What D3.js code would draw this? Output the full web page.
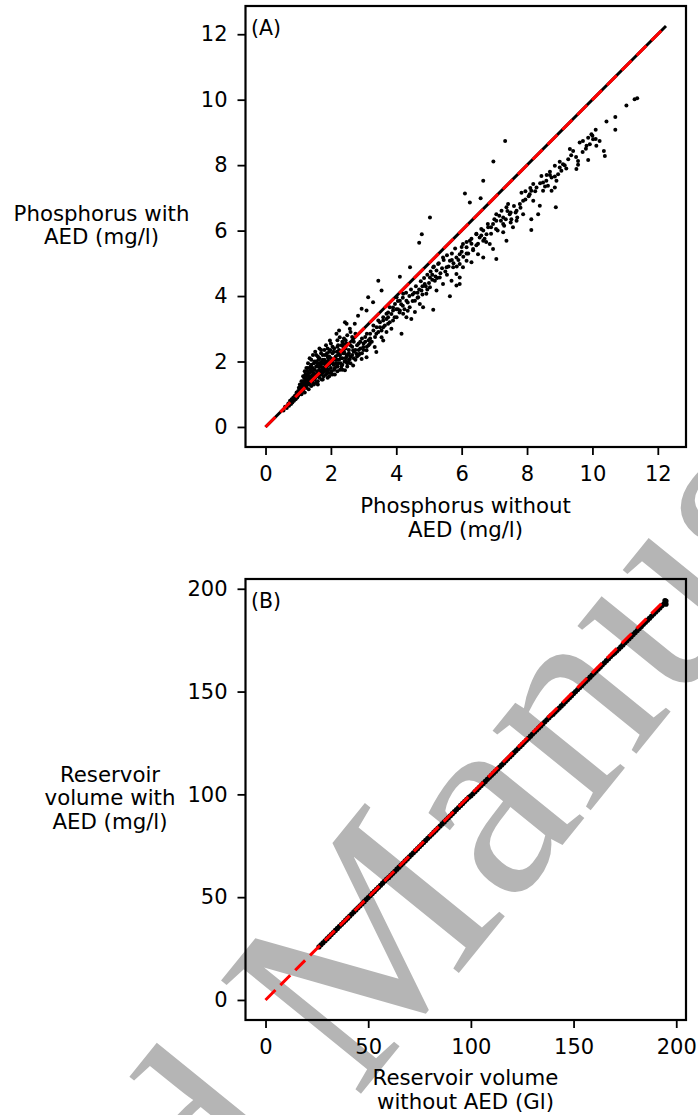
<!DOCTYPE html>
<html>
<head>
<meta charset="utf-8">
<script src="https://cdn.jsdelivr.net/npm/d3@7"></script>
<style>
  body { margin: 0; background: #fff; }
  svg { display: block; }
  text { font-family: "DejaVu Sans", sans-serif; fill: #000; }
  text.wm { font-family: "Liberation Serif", "DejaVu Serif", serif; fill: #b5b5b5; font-size: 275px; }
</style>
</head>
<body>
<svg id="mainsvg" width="698" height="1115"></svg>
<script>
// panel A: phosphorus, [without AED, with AED] in mg/l
const phosphorus = [
  // upper end
  [11.37,10.04],[11.29,10.01],[11.04,9.82],[10.70,9.47],[10.43,9.33],[10.70,9.08],[10.10,9.08],[9.97,8.94],
  [9.87,8.84],[10.02,8.79],[9.61,8.69],[9.71,8.74],[9.82,8.59],[9.92,8.64],[10.22,8.74],[10.12,8.59],
  [10.35,8.43],[10.38,8.28],[9.87,8.16],[9.56,8.13],[9.56,8.01],[9.51,7.88],[9.31,8.49],[9.41,8.43],
  [9.26,8.18],[9.10,8.03],[9.00,7.93],[9.05,7.83],[8.85,7.98],[8.95,7.72],[8.75,7.62],[8.90,7.52],
  [8.85,7.32],[8.59,7.52],[8.64,7.37],[8.44,7.67],[8.49,7.47],[8.29,7.32],[8.19,7.42],[8.08,7.11],
  [8.13,7.22],[8.49,7.22],[8.75,7.22],[8.88,6.71],[7.83,7.16],[7.88,6.91],[7.78,6.81],[8.19,6.91],
  [8.39,6.76],[8.34,6.50],[8.13,6.35],[8.13,6.02],[7.57,6.10],[7.68,6.30],[7.47,6.50],[7.42,6.81],
  [7.37,6.71],[7.22,6.61],[7.06,6.50],[7.27,6.40],[7.88,6.50],[7.68,6.61],[7.52,6.35],[7.27,6.20],
  [7.06,6.30],[6.96,6.20],[6.81,6.10],[6.66,6.00],[6.76,5.89],[6.55,5.79],[6.45,5.89],[6.66,5.69],
  [6.86,5.59],[6.96,5.44],[7.06,5.13],[6.66,5.18],[6.50,5.28],[6.35,5.44],[6.25,5.69],[6.15,5.49],
  [6.04,5.59],[5.94,5.28],[5.84,5.18],[5.94,4.98],[6.04,4.88],[6.15,5.08],[6.30,5.03],[7.37,5.69],
  [7.27,5.95],[8.60,7.70],[8.70,7.80],[9.20,7.90],[9.70,8.40],[10.00,8.90],[7.95,6.95],[8.05,7.05],
  [3.30,3.10],[3.45,3.25],[3.60,3.05],[3.75,3.35],[3.90,3.25],[4.05,3.60],[4.20,3.70],[4.35,3.55],
  [4.50,4.05],[4.65,4.10],[4.80,4.30],[4.95,4.20],[5.10,4.65],[5.25,4.55],[5.40,4.85],[5.55,4.65],
  [5.70,5.10],[5.85,4.90],[6.00,5.35],[6.15,5.30],[6.30,5.60],[6.45,5.55],[6.60,5.85],[6.75,5.65],
  [6.90,6.10],[7.05,6.05],[7.20,6.30],[7.35,6.35],[7.50,6.55],[7.65,6.55],[7.80,6.70],[7.95,7.20],
  [8.10,7.30],[8.25,7.20],[8.40,7.45],[8.55,7.35],[8.70,7.70],[8.85,7.65],[9.00,8.10],[9.15,8.00],
  [9.35,8.30],[9.50,8.25],[9.80,8.50],[10.10,8.80],
  // above the 1:1 line
  [7.33,8.74],[6.97,8.11],[6.66,7.52],[6.10,7.13],[6.25,6.86],[6.58,6.99],[5.03,6.40],[4.78,5.89],
  [4.70,5.63],[4.42,4.88],[4.11,4.59],[3.45,4.47],[3.55,4.17],[3.14,3.96],[3.29,3.81],[3.09,3.56],
  [2.94,3.61],[2.83,3.40],[2.43,3.20],[2.73,3.15],[2.58,3.00],[2.17,2.85],[2.27,2.74],[1.97,2.64],
  [2.38,2.54],[2.48,3.15],[2.25,2.95],
  // middle band
  [5.64,5.08],[5.74,4.88],[5.54,4.88],[5.43,5.18],[5.28,4.98],[5.13,4.88],[5.23,4.78],[5.03,4.57],
  [5.18,4.47],[5.33,4.57],[5.43,4.37],[5.23,4.17],[5.03,4.27],[4.87,4.37],[4.92,4.07],[4.77,4.17],
  [4.67,3.96],[4.57,3.86],[4.72,3.76],[4.82,3.66],[5.13,3.58],[4.57,3.51],[4.41,3.66],[4.31,3.86],
  [4.21,4.07],[4.11,3.86],[4.01,3.96],[3.96,3.76],[4.11,3.56],[4.21,3.46],[4.31,3.35],[4.46,3.30],
  [4.01,3.35],[3.90,3.56],[3.80,3.66],[3.70,3.46],[3.60,3.25],[3.75,3.15],[3.85,3.00],[3.70,2.90],
  [3.50,3.05],[3.39,2.85],[3.55,2.74],[3.60,2.64],[4.16,2.85],[3.34,2.44],[3.39,2.29],[3.19,2.54],
  [3.09,2.34],[2.99,2.44],[2.88,2.24],[2.78,2.24],[2.68,1.88],[3.09,2.13],[2.94,2.08],[2.68,2.34],
  [2.58,2.08],[2.53,1.98],[2.43,1.73],[5.64,3.99],[5.94,4.37],[5.84,4.32],[5.69,4.47],[5.94,4.57],
  [5.84,4.67],
  [2.05,1.95],[2.10,1.75],[2.15,2.05],[2.20,1.85],[2.25,2.20],[2.30,1.95],[2.35,2.10],[2.40,2.30],
  [2.45,2.00],[2.50,2.20],[2.55,2.35],[2.60,2.15],[2.65,2.45],[2.70,2.30],[2.75,2.05],[2.80,2.50],
  [2.85,2.35],[2.90,2.60],[2.95,2.25],[3.00,2.55],[3.05,2.75],[3.10,2.45],[3.15,2.65],[3.20,2.85],
  [3.25,2.60],[3.30,2.95],[3.35,2.75],[3.40,3.05],[3.45,2.90],[3.50,3.20],[3.55,2.95],[3.60,3.35],
  [3.65,3.10],[3.70,3.30],[3.75,3.50],[3.80,3.20],[3.85,3.45],[3.90,3.65],[3.95,3.35],[4.00,3.60],
  [4.05,3.85],[4.10,3.50],[4.15,3.75],[4.20,3.95],[4.25,3.60],[4.30,4.10],[4.35,3.80],[4.40,4.00],
  [4.45,4.20],[4.50,3.85],[4.55,4.10],[4.60,4.30],[4.65,3.95],[4.70,4.20],[4.75,4.45],[4.80,4.05],
  [4.85,4.55],[4.90,4.30],[4.95,4.65],[5.00,4.40],[5.05,4.75],[5.10,4.50],[5.15,4.90],[5.20,4.60],
  [5.30,5.00],[5.35,4.70],[5.45,5.10],[5.50,4.75],[5.55,5.25],[5.60,4.90],[5.70,5.30],[5.75,5.00],
  [5.80,5.45],[5.90,5.10],[6.00,5.50],[6.05,5.20],[6.15,5.65],[6.20,5.30],[6.30,5.75],[6.35,5.40],
  [6.45,5.90],[6.50,5.60],[6.60,6.05],[6.70,5.75],[6.80,6.20],[6.90,5.90],[7.00,6.35],[7.10,6.00],
  [7.15,6.45],[7.30,6.15],[7.40,6.60],[7.50,6.25],[7.60,6.75],[7.70,6.40],
  // dense cluster near origin
  [0.55,0.50],[0.60,0.62],[0.65,0.58],[0.70,0.72],[0.72,0.65],[0.75,0.80],[0.78,0.70],[0.80,0.85],
  [0.82,0.75],[0.85,0.90],[0.87,0.80],[0.90,0.95],[0.92,0.85],[0.95,1.05],[0.97,0.90],[1.00,1.10],
  [1.00,0.95],[1.02,1.20],[1.05,1.00],[1.05,1.30],[1.08,1.10],
  [1.10,1.40],[1.10,1.00],[1.12,1.25],[1.15,1.55],[1.15,1.10],[1.18,1.35],[1.20,1.70],[1.20,1.05],
  [1.22,1.45],[1.25,1.20],[1.25,1.80],[1.28,1.60],[1.30,1.30],[1.30,1.95],[1.32,1.15],[1.35,1.50],
  [1.35,2.10],[1.38,1.75],[1.40,1.25],[1.40,1.90],[1.42,1.40],[1.45,2.20],[1.45,1.60],[1.48,1.30],
  [1.50,2.00],[1.50,1.45],[1.50,1.75],
  [1.52,2.30],[1.55,1.35],[1.55,1.85],[1.58,1.55],[1.60,2.15],[1.60,1.40],[1.62,1.70],[1.65,2.40],
  [1.65,1.50],[1.68,1.95],[1.70,1.60],[1.70,2.25],[1.72,1.45],[1.75,1.80],[1.75,2.05],[1.78,1.55],
  [1.80,2.35],[1.80,1.70],[1.82,1.95],[1.85,1.60],[1.85,2.50],[1.88,1.85],[1.90,2.15],[1.90,1.65],
  [1.92,1.75],[1.95,2.30],[1.95,1.55],[1.98,2.00],[2.00,1.80],[2.00,2.55],
  [2.02,1.70],[2.05,2.25],[2.08,1.90],[2.10,2.40],[2.12,1.60],[2.15,2.15],[2.18,1.85],[2.20,2.65],
  [2.22,1.95],[2.25,2.35],[2.28,1.75],[2.30,2.10],[2.32,2.50],[2.35,1.90],[2.38,2.25],[2.40,2.70],
  [2.42,2.00],[2.45,2.40],[2.48,2.15],[2.50,1.85],
  [1.15,1.20],[1.25,1.40],[1.35,1.30],[1.45,1.50],[1.55,1.60],[1.65,1.75],[1.75,1.65],[1.85,1.75],
  [1.95,1.90],[1.30,1.45],[1.40,1.55],[1.50,1.60],[1.60,1.85],[1.70,1.90],[1.80,2.05],[1.90,2.00],
  [2.00,2.10],[1.20,1.30],[1.10,1.15],[1.45,1.80],[1.55,2.00],[1.65,2.10],[1.75,2.20],[1.35,1.65],
  [1.25,1.55],[1.18,1.50],[1.28,1.70],[1.38,1.85],[1.48,1.95],[1.58,1.70],[1.68,1.85],[1.78,1.95],
  [1.88,2.25],[1.98,2.35],[2.08,2.05],[2.18,2.30],[1.62,1.60],[1.72,1.70],[1.82,1.85],[1.92,1.95],
  [2.55,2.05],[2.60,2.50],[2.65,2.20],[2.70,2.60],[2.75,2.35],[2.80,2.15],[2.85,2.55],[2.90,2.40],
  [2.95,2.70],[3.00,2.35],[3.05,2.60],[3.10,2.85],[3.15,2.50],[3.20,2.70],[2.50,2.80],[2.60,2.90],
  [2.20,2.45],[2.35,2.60],[2.45,2.65],[2.65,2.75],[2.75,2.85],
  [1.05,1.15],[1.12,1.30],[1.18,1.20],[1.22,1.60],[1.28,1.35],[1.32,1.55],[1.38,1.45],[1.42,1.70],
  [1.48,1.65],[1.52,1.50],[1.58,1.95],[1.62,2.05],[1.68,1.65],[1.72,2.00],[1.78,1.80],[1.82,2.20],
  [1.88,1.70],[1.92,2.10],[1.98,1.65],[2.02,2.00],[2.08,2.30],[2.12,1.80],[2.18,2.05],[2.22,2.50],
  [2.28,2.20],[2.32,1.85],[2.38,2.45],[2.42,2.25],[2.48,2.55],[1.40,2.05],[1.55,2.20],[1.30,1.80],
  [1.20,1.55],[1.70,2.35],[1.90,2.40],[2.05,2.45],[1.60,1.30],[1.75,1.45],[1.90,1.50],[2.05,1.60],
  [2.20,1.70],[2.35,1.75],[2.50,1.95],[2.60,1.95],[2.70,2.10],[2.85,2.20],[0.98,1.00],[0.93,0.98],
  [1.08,1.25],[1.15,1.40],[1.25,1.30],[1.35,1.40],[1.45,1.35],[1.65,1.95],[1.85,2.00],[1.95,2.15],
  [2.15,1.95],[2.25,2.05],[2.45,2.10],[2.55,2.25]
];

// panel B: reservoir volume (Gl) without AED and with AED
const volWithout = [26,27,28,29,30,31,32,33,34,35,36,37,38,39,40,41,42,43,44,45,46,47,48,49,50,51,52,53,54,
  55,56,57,58,59,60,61,62,63,64,65,66,67,68,69,70,71,72,73,74,75,76,77,78,79,80,81,82,83,84,85,86,87,88,89,
  90,91,92,93,94,95,96,97,98,99,100,101,102,103,104,105,106,107,108,109,110,111,112,113,114,115,116,117,
  118,119,120,121,122,123,124,125,126,127,128,129,130,131,132,133,134,135,136,137,138,139,140,141,142,143,
  144,145,146,147,148,149,150,151,152,153,154,155,156,157,158,159,160,161,162,163,164,165,166,167,168,169,
  170,171,172,173,174,175,176,177,178,179,180,181,182,183,184,185,186,187,188,189,190,191,192,193,194,
  195,195,194.5];
const volWith = [25.8,26.8,27.8,28.8,29.8,30.8,31.8,32.8,33.8,34.8,35.8,36.8,37.8,38.8,39.8,40.8,41.8,42.8,
  43.8,44.8,45.8,46.8,47.8,48.8,49.8,50.8,51.8,52.8,53.8,54.8,55.8,56.8,57.8,58.8,
  59.6,60.6,61.6,62.6,63.6,64.6,65.6,66.6,67.6,68.6,69.6,70.6,71.6,72.6,73.6,74.6,75.6,76.6,77.6,78.6,
  79.6,80.6,81.6,82.6,83.6,84.6,85.6,86.6,87.6,88.6,89.6,90.6,91.6,92.6,93.6,94.6,95.6,96.6,97.6,98.6,
  99.3,100.3,101.3,102.3,103.3,104.3,105.3,106.3,107.3,108.3,109.3,110.3,111.3,112.3,113.3,114.3,115.3,
  116.3,117.3,118.3,119.3,120.3,121.3,122.3,123.3,124.3,125.3,126.3,127.3,128.3,129.3,130.3,131.3,132.3,
  133.3,134.3,135.3,136.3,137.3,138.3,
  139.0,140.0,141.0,142.0,143.0,144.0,145.0,146.0,147.0,148.0,149.0,150.0,151.0,152.0,153.0,154.0,155.0,
  156.0,157.0,158.0,159.0,160.0,161.0,162.0,163.0,164.0,165.0,166.0,167.0,168.0,
  168.7,169.7,170.7,171.7,172.7,173.7,174.7,175.7,176.7,177.7,178.7,179.7,180.7,181.7,182.7,183.7,184.7,
  185.7,186.7,187.7,188.7,189.7,190.7,191.7,192.7,
  194.0,192.5,194.3];

const ticksA = [0, 2, 4, 6, 8, 10, 12];
const ticksB = [0, 50, 100, 150, 200];
const lineA = [0, 12.25];
const lineB = [0, 194.5];

const svg = d3.select('#mainsvg');

// watermark behind everything
const wm = svg.append('g')
  .attr('transform', 'translate(356,1100) rotate(-51)');
wm.append('text').attr('class', 'wm').attr('x', -62).attr('text-anchor', 'end').text('Accepted');
wm.append('text').attr('class', 'wm').attr('x', 0).text('Manuscript');

const panel = function (opt) {
  const x = d3.scaleLinear().domain(opt.domain).range([245.5, 686]);
  const y = d3.scaleLinear().domain(opt.domain).range([opt.bottom, opt.bottom - 441]);
  const g = svg.append('g');

  g.selectAll('.dot')
    .data(opt.points)
    .join('circle')
    .attr('class', 'dot')
    .attr('cx', d => x(d[0]))
    .attr('cy', d => y(d[1]))
    .attr('r', opt.r)
    .attr('fill', '#000');

  if (opt.blackLine) {
    g.append('line')
      .attr('x1', x(opt.line[0])).attr('y1', y(opt.line[0]))
      .attr('x2', x(opt.line[1])).attr('y2', y(opt.line[1]))
      .attr('stroke', '#000').attr('stroke-width', 3);
  }
  g.append('line')
    .attr('x1', x(opt.line[0])).attr('y1', y(opt.line[0]))
    .attr('x2', x(opt.line[1])).attr('y2', y(opt.line[1]))
    .attr('stroke', '#ff0000').attr('stroke-width', 3)
    .attr('stroke-dasharray', '14,7');

  const xa = g.append('g')
    .attr('transform', `translate(0,${opt.bottom})`)
    .call(d3.axisBottom(x).tickValues(opt.ticks).tickSize(8).tickPadding(11).tickFormat(d3.format('d')));
  const ya = g.append('g')
    .attr('transform', 'translate(245.5,0)')
    .call(d3.axisLeft(y).tickValues(opt.ticks).tickSize(8).tickPadding(10).tickFormat(d3.format('d')));
  [xa, ya].forEach(a => {
    a.select('.domain').remove();
    a.selectAll('line').attr('stroke', '#000').attr('stroke-width', 1.8);
    a.selectAll('text').style('font-size', '21px').style('font-family', '"DejaVu Sans"');
  });

  g.append('rect')
    .attr('x', 245.5).attr('y', opt.bottom - 441)
    .attr('width', 440.5).attr('height', 441)
    .attr('fill', 'none').attr('stroke', '#000').attr('stroke-width', 2.2);

  g.append('text')
    .attr('x', 251).attr('y', opt.bottom - 441 + 29)
    .style('font-size', '20.5px')
    .text(opt.tag);

  const lab = (lines, cx, y0) => {
    lines.forEach((s, i) => {
      g.append('text')
        .attr('x', cx).attr('y', y0 + i * 23.5)
        .attr('text-anchor', 'middle')
        .style('font-size', '21.3px')
        .text(s);
    });
  };
  lab(opt.xlabel, 465.5, opt.xlabY);
  lab(opt.ylabel, opt.ylabX, opt.ylabY);
};

panel({
  domain: [-0.6125, 12.8625], bottom: 447, r: 2, points: phosphorus,
  ticks: ticksA, line: lineA, blackLine: true, tag: '(A)',
  xlabel: ['Phosphorus without', 'AED (mg/l)'], xlabY: 513,
  ylabel: ['Phosphorus with', 'AED (mg/l)'], ylabX: 101.5, ylabY: 220.5
});

panel({
  domain: [-9.75, 204.75], bottom: 1020, r: 2.6,
  points: volWithout.map((v, i) => [v, volWith[i]]),
  ticks: ticksB, line: lineB, blackLine: false, tag: '(B)',
  xlabel: ['Reservoir volume', 'without AED (Gl)'], xlabY: 1085,
  ylabel: ['Reservoir', 'volume with', 'AED (mg/l)'], ylabX: 110, ylabY: 781.5
});
</script>
</body>
</html>
